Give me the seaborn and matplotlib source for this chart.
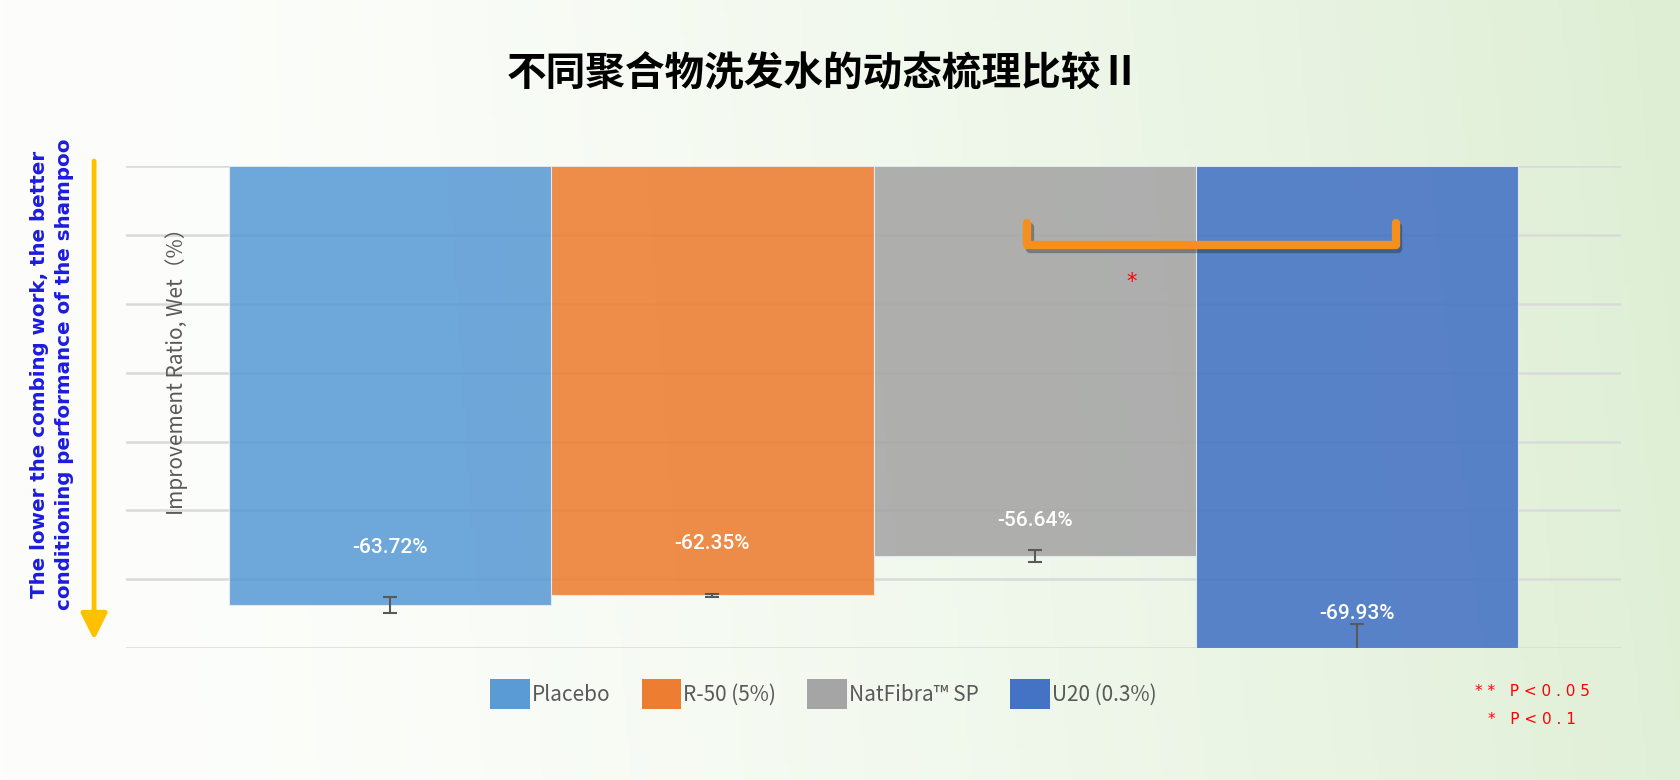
import numpy as np
import matplotlib
matplotlib.use("Agg")
import matplotlib.pyplot as plt
import matplotlib.patheffects as pe
from matplotlib.patches import Patch, FancyArrowPatch
from matplotlib.colors import to_rgb
import seaborn as sns

# data
groups = ["Placebo", "R-50 (5%)", "NatFibra™ SP", "U20 (0.3%)"]
ratio = [-63.72, -62.35, -56.64, -69.93]
ratio_err = [1.2, 0.15, 0.9, 3.4]
labels = ["-63.72%", "-62.35%", "-56.64%", "-69.93%"]
colors = ["#5B9BD5", "#ED7D31", "#A5A5A5", "#4472C4"]
label_shift = [8.3, 7.6, 5.2, 4.9]

sns.set_theme(style="white")
plt.rcParams["font.family"] = ["Noto Sans CJK SC", "DejaVu Sans"]

fig = plt.figure(figsize=(16.8, 7.8), dpi=100)

# background gradient
bg = fig.add_axes([0, 0, 1, 1], zorder=-10)
xx = np.linspace(0, 1, 400)
yy = np.linspace(0, 1, 200)
X, Y = np.meshgrid(xx, yy)
t = np.clip(X ** 1.6 * 0.9 + (1 - Y) * 0.08 * X, 0, 1)
c0 = np.array(to_rgb("#FDFEFC"))
c1 = np.array(to_rgb("#DDEED3"))
img = c0[None, None, :] * (1 - t[..., None]) + c1[None, None, :] * t[..., None]
bg.imshow(img, aspect="auto", extent=[0, 1, 0, 1], origin="upper")
bg.axis("off")

ax = fig.add_axes([0.075, 0.169, 0.89, 0.618])
ax.set_facecolor("none")
sns.barplot(x=groups, y=ratio, hue=groups, palette=colors, width=1.0,
            errorbar=None, legend=False, alpha=0.88, saturation=1, ax=ax, zorder=2,
            edgecolor="#E8EEF4", linewidth=0.8)
ax.errorbar(range(len(groups)), ratio, yerr=ratio_err, fmt="none",
            ecolor="#595959", elinewidth=1.5, capsize=5, capthick=1.5, zorder=4)

for i, (v, s) in enumerate(zip(ratio, labels)):
    ax.text(i, v + label_shift[i], s, ha="center", va="center", color="white",
            fontsize=15, fontweight="medium", zorder=5, family=["Roboto", "DejaVu Sans"])

ax.set_ylim(-70, 0)
ax.set_xlim(-0.82, 3.82)
ax.set_yticks(np.arange(-70, 1, 10))
ax.yaxis.grid(True, color="#DADADA", linewidth=1.8, zorder=0)
ax.set_axisbelow(True)
ax.set_xticks([])
ax.tick_params(left=False, labelleft=False)
for sp in ax.spines.values():
    sp.set_visible(False)
ax.set_xlabel("")
ax.set_ylabel("")

# significance bracket
ax.plot([1.976, 1.976, 3.12, 3.12], [-8.2, -11.4, -11.4, -8.2], color="#F5901E",
        lw=6, solid_capstyle="round", solid_joinstyle="round", zorder=6,
        path_effects=[pe.SimpleLineShadow(offset=(2, -3), alpha=0.35), pe.Normal()])
ax.text(2.30, -16.8, "*", color="red", ha="center", va="center", fontsize=15,
        zorder=6, family=["DejaVu Sans"])

fig.text(0.105, 0.531, "Improvement Ratio, Wet（%）", rotation=90, ha="center",
         va="center", fontsize=15, color="#595959")

fig.text(0.49, 0.905, "不同聚合物洗发水的动态梳理比较Ⅱ", ha="center", va="center",
         fontsize=28.5, fontweight="bold", color="black")

fig.text(0.031, 0.52, "The lower the combing work, the better\nconditioning performance of the shampoo",
         rotation=90, ha="center", va="center", fontsize=14.3, fontweight="bold",
         color="#1C1CE0", linespacing=1.4, family=["DejaVu Sans"])
fig.add_artist(FancyArrowPatch(
    (0.056, 0.797), (0.056, 0.176), transform=fig.transFigure,
    arrowstyle="-|>,head_length=8,head_width=4", color="#FFC000", lw=3.5,
    mutation_scale=2))

handles = [Patch(facecolor=c, edgecolor="none") for c in colors]
fig.legend(handles, groups, loc="center", bbox_to_anchor=(0.49, 0.11), ncol=4,
           frameon=False, fontsize=15, handlelength=1.9, handleheight=1.8,
           handletextpad=0.1, columnspacing=1.5, labelcolor="#595959")

fig.text(0.912, 0.114, "* *   P < 0 . 0 5", color="red", ha="center", va="center",
         fontsize=11, family=["DejaVu Sans"])
fig.text(0.912, 0.077, "*   P < 0 . 1", color="red", ha="center", va="center",
         fontsize=11, family=["DejaVu Sans"])

fig.savefig("out.png", dpi=100)
